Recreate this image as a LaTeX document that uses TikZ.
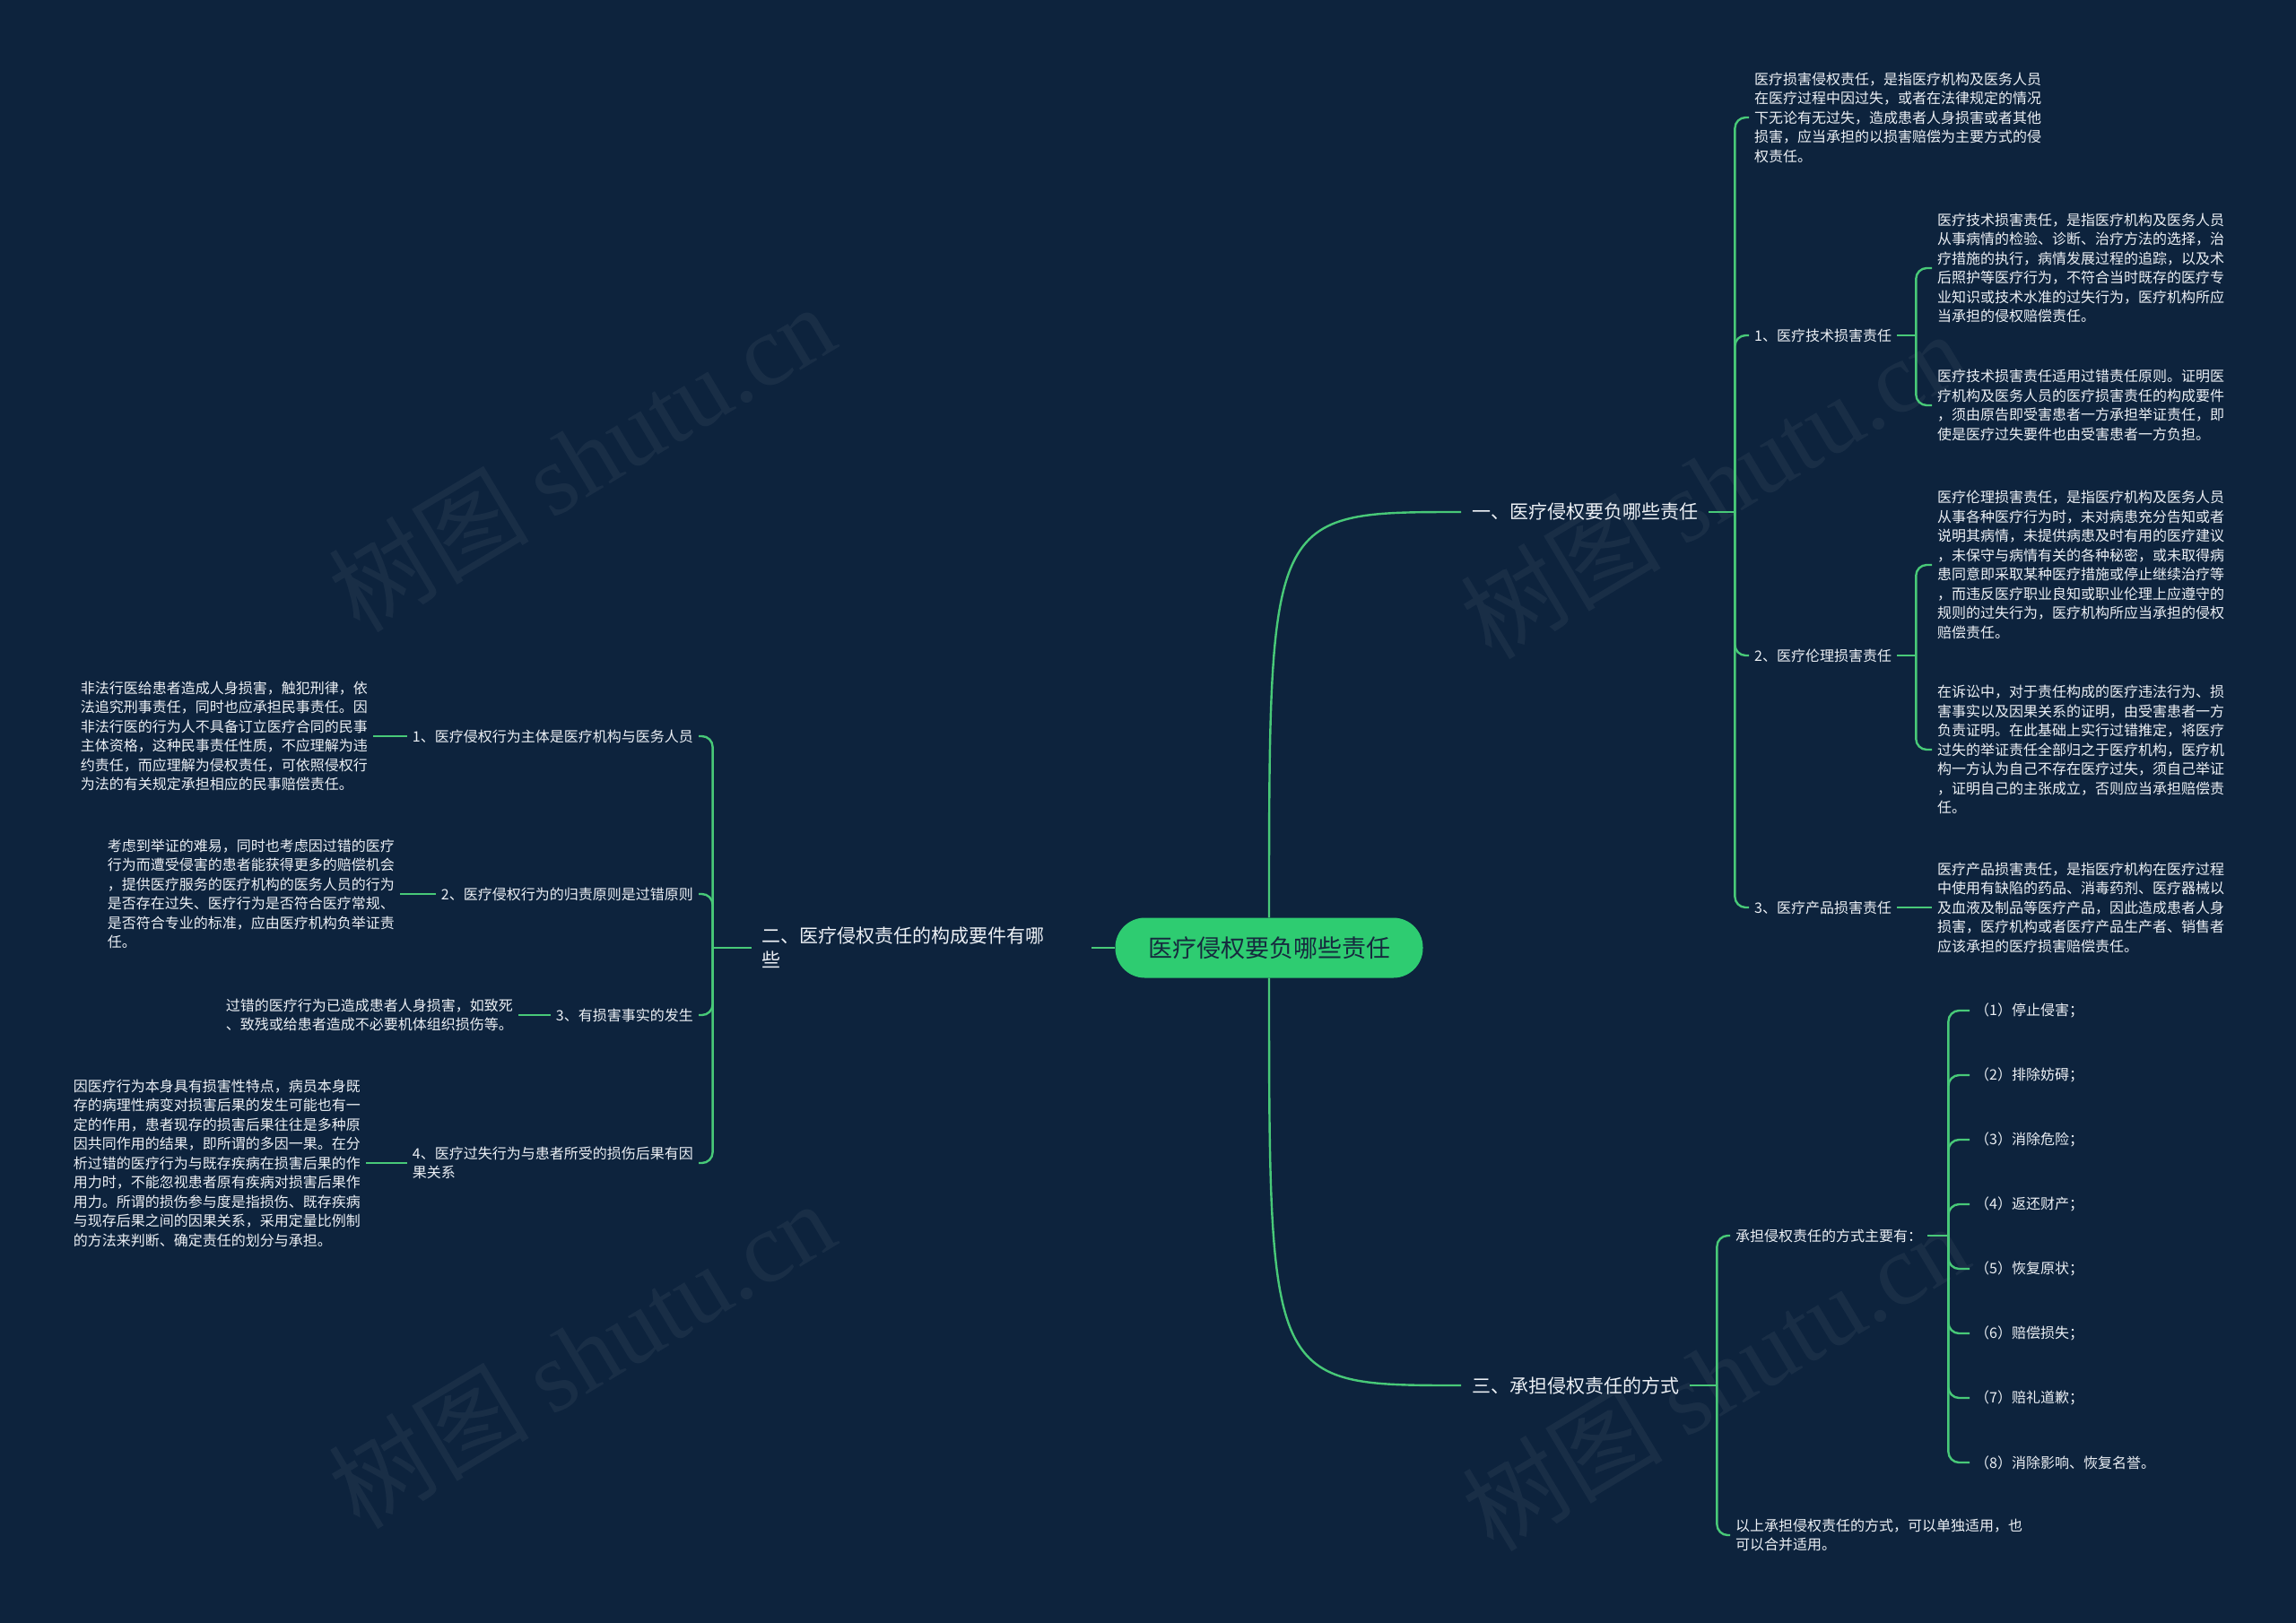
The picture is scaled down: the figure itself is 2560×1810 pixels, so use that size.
\documentclass[tikz,border=0pt]{standalone}
\usepackage{fontspec}
\setmainfont{Noto Sans CJK SC}
\newfontfamily\wmfont{Liberation Serif}
\usepackage{xcolor}
\usetikzlibrary{calc}
\definecolor{bgnavy}{RGB}{13,35,61}
\definecolor{linkgreen}{RGB}{72,201,120}
\definecolor{rootgreen}{RGB}{46,204,113}
\definecolor{txtwhite}{RGB}{236,240,245}
\definecolor{roottxt}{RGB}{22,42,62}

\begin{document}
\begin{tikzpicture}[
  x=1pt, y=-1pt,
  root/.style={fill=rootgreen, rounded corners=33pt, minimum width=343pt, minimum height=67pt, font=\fontsize{27}{32}\selectfont, text=roottxt},
  branch/.style={text=txtwhite, font=\fontsize{21}{27}\selectfont, inner xsep=12pt, inner ysep=3pt, align=left},
  topic/.style={text=txtwhite, font=\fontsize{16}{21.5}\selectfont, inner xsep=6pt, inner ysep=2pt, align=left},
  link/.style={draw=linkgreen, line width=2.4pt, rounded corners=12pt},
  wmark/.style={text=white, opacity=0.05, rotate=31, inner sep=0pt, font=\fontsize{112}{112}\selectfont},
]
  \fill[bgnavy] (0,0) rectangle (2560,1810);
  \useasboundingbox (0,0) rectangle (2560,1810);

  % watermarks
  \foreach \p in {(648,510),(1910,540),(648,1510),(1912,1535)}
    \node[wmark] at \p {树图 {\wmfont shutu.cn}};

  \node[root] (root) at (1415,1057) {医疗侵权要负哪些责任};
  \node[branch, anchor=west] (b1) at (1629,571) {一、医疗侵权要负哪些责任};
  \node[branch, anchor=east, text width=355pt] (b2) at (1217,1057) {二、医疗侵权责任的构成要件有哪\\些};
  \node[branch, anchor=west] (b3) at (1629,1545) {三、承担侵权责任的方式};

  \draw[link] (root.north) .. controls (root.north |- b1.west) .. (b1.west);
  \draw[link] (root.south) .. controls (root.south |- b3.west) .. (b3.west);
  \draw[link] (root.west) -- (b2.east);

  % right, first branch
  \node[topic, anchor=west] (r1) at (1950,131) {医疗损害侵权责任，是指医疗机构及医务人员\\在医疗过程中因过失，或者在法律规定的情况\\下无论有无过失，造成患者人身损害或者其他\\损害，应当承担的以损害赔偿为主要方式的侵\\权责任。};
  \node[topic, anchor=west] (r2) at (1950,374) {1、医疗技术损害责任};
  \node[topic, anchor=west] (r3) at (1950,731) {2、医疗伦理损害责任};
  \node[topic, anchor=west] (r4) at (1950,1012) {3、医疗产品损害责任};
  \node[topic, anchor=west] (r2a) at (2154,299) {医疗技术损害责任，是指医疗机构及医务人员\\从事病情的检验、诊断、治疗方法的选择，治\\疗措施的执行，病情发展过程的追踪，以及术\\后照护等医疗行为，不符合当时既存的医疗专\\业知识或技术水准的过失行为，医疗机构所应\\当承担的侵权赔偿责任。};
  \node[topic, anchor=west] (r2b) at (2154,452) {医疗技术损害责任适用过错责任原则。证明医\\疗机构及医务人员的医疗损害责任的构成要件\\，须由原告即受害患者一方承担举证责任，即\\使是医疗过失要件也由受害患者一方负担。};
  \node[topic, anchor=west] (r3a) at (2154,630) {医疗伦理损害责任，是指医疗机构及医务人员\\从事各种医疗行为时，未对病患充分告知或者\\说明其病情，未提供病患及时有用的医疗建议\\，未保守与病情有关的各种秘密，或未取得病\\患同意即采取某种医疗措施或停止继续治疗等\\，而违反医疗职业良知或职业伦理上应遵守的\\规则的过失行为，医疗机构所应当承担的侵权\\赔偿责任。};
  \node[topic, anchor=west] (r3b) at (2154,836) {在诉讼中，对于责任构成的医疗违法行为、损\\害事实以及因果关系的证明，由受害患者一方\\负责证明。在此基础上实行过错推定，将医疗\\过失的举证责任全部归之于医疗机构，医疗机\\构一方认为自己不存在医疗过失，须自己举证\\，证明自己的主张成立，否则应当承担赔偿责\\任。};
  \node[topic, anchor=west] (r4a) at (2154,1012) {医疗产品损害责任，是指医疗机构在医疗过程\\中使用有缺陷的药品、消毒药剂、医疗器械以\\及血液及制品等医疗产品，因此造成患者人身\\损害，医疗机构或者医疗产品生产者、销售者\\应该承担的医疗损害赔偿责任。};

  \coordinate (b1s) at ([xshift=29pt]b1.east);
  \draw[link] (b1.east) -- (b1s);
  \foreach \c in {r1,r2,r3,r4}
    \draw[link] (b1s) |- (\c.west);
  \coordinate (r2s) at ([xshift=21pt]r2.east);
  \draw[link] (r2.east) -- (r2s);
  \foreach \c in {r2a,r2b}
    \draw[link] (r2s) |- (\c.west);
  \coordinate (r3s) at ([xshift=21pt]r3.east);
  \draw[link] (r3.east) -- (r3s);
  \foreach \c in {r3a,r3b}
    \draw[link] (r3s) |- (\c.west);
  \draw[link] (r4.east) -- (r4a.west);

  % left branch
  \node[topic, anchor=east] (l1) at (779,821) {1、医疗侵权行为主体是医疗机构与医务人员};
  \node[topic, anchor=east] (l2) at (779,997) {2、医疗侵权行为的归责原则是过错原则};
  \node[topic, anchor=east] (l3) at (779,1132) {3、有损害事实的发生};
  \node[topic, anchor=east] (l4) at (779,1297) {4、医疗过失行为与患者所受的损伤后果有因\\果关系};
  \node[topic, anchor=east] (l1a) at (416,821) {非法行医给患者造成人身损害，触犯刑律，依\\法追究刑事责任，同时也应承担民事责任。因\\非法行医的行为人不具备订立医疗合同的民事\\主体资格，这种民事责任性质，不应理解为违\\约责任，而应理解为侵权责任，可依照侵权行\\为法的有关规定承担相应的民事赔偿责任。};
  \node[topic, anchor=east] (l2a) at (446,997) {考虑到举证的难易，同时也考虑因过错的医疗\\行为而遭受侵害的患者能获得更多的赔偿机会\\，提供医疗服务的医疗机构的医务人员的行为\\是否存在过失、医疗行为是否符合医疗常规、\\是否符合专业的标准，应由医疗机构负举证责\\任。};
  \node[topic, anchor=east] (l3a) at (578,1132) {过错的医疗行为已造成患者人身损害，如致死\\、致残或给患者造成不必要机体组织损伤等。};
  \node[topic, anchor=east] (l4a) at (408,1297) {因医疗行为本身具有损害性特点，病员本身既\\存的病理性病变对损害后果的发生可能也有一\\定的作用，患者现存的损害后果往往是多种原\\因共同作用的结果，即所谓的多因一果。在分\\析过错的医疗行为与既存疾病在损害后果的作\\用力时，不能忽视患者原有疾病对损害后果作\\用力。所谓的损伤参与度是指损伤、既存疾病\\与现存后果之间的因果关系，采用定量比例制\\的方法来判断、确定责任的划分与承担。};

  \coordinate (b2s) at ([xshift=-43pt]b2.west);
  \draw[link] (b2.west) -- (b2s);
  \foreach \c in {l1,l2,l3,l4}
    \draw[link] (b2s) |- (\c.east);
  \draw[link] (l1.west) -- (l1a.east);
  \draw[link] (l2.west) -- (l2a.east);
  \draw[link] (l3.west) -- (l3a.east);
  \draw[link] (l4.west) -- (l4a.east);

  % right, third branch
  \node[topic, anchor=west] (b3a) at (1929,1378) {承担侵权责任的方式主要有：};
  \node[topic, anchor=west] (b3b) at (1929,1712) {以上承担侵权责任的方式，可以单独适用，也\\可以合并适用。};
  \coordinate (b3s) at ([xshift=30pt]b3.east);
  \draw[link] (b3.east) -- (b3s);
  \foreach \c in {b3a,b3b}
    \draw[link] (b3s) |- (\c.west);
  \coordinate (b3as) at ([xshift=23pt]b3a.east);
  \draw[link] (b3a.east) -- (b3as);
  \foreach \t [count=\i] in {停止侵害；,排除妨碍；,消除危险；,返还财产；,恢复原状；,赔偿损失；,赔礼道歉；,消除影响、恢复名誉。}{
    \node[topic, anchor=west] (m\i) at (2196,{1055+72*\i}) {（\i）\t};
    \draw[link] (b3as) |- (m\i.west);
  }
\end{tikzpicture}
\end{document}
